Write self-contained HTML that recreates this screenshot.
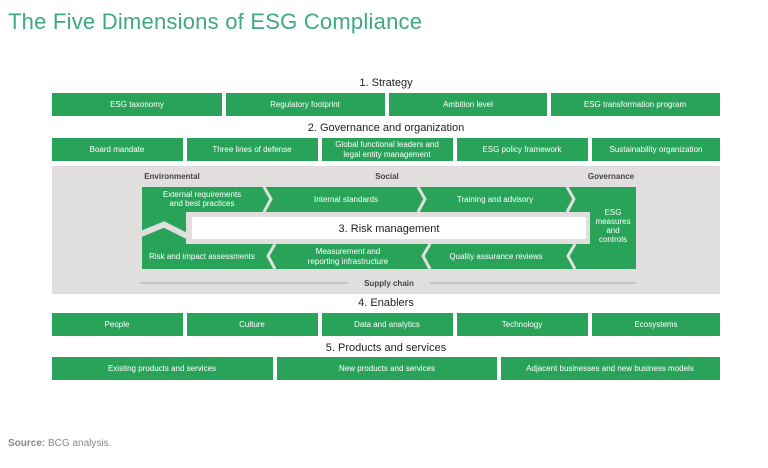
<!DOCTYPE html>
<html><head><meta charset="utf-8"><style>
html,body{margin:0;padding:0;background:#fff;}
svg{display:block;font-family:"Liberation Sans",sans-serif;}
.b{fill:#29a35a;}
.t{fill:#fff;font-size:8px;text-anchor:middle;}
.h{fill:#222;font-size:11px;text-anchor:middle;}
.s{fill:#444;font-size:8px;font-weight:bold;text-anchor:middle;}
</style></head><body>
<svg width="768" height="468" viewBox="0 0 768 468">
<text x="8" y="29" font-size="22" fill="#3ea884" textLength="414">The Five Dimensions of ESG Compliance</text>

<text class="h" x="386" y="86">1. Strategy</text>
<rect class="b" x="52" y="93" width="170" height="23"/><text class="t" x="137" y="107">ESG taxonomy</text>
<rect class="b" x="226" y="93" width="159" height="23"/><text class="t" x="305" y="107">Regulatory footprint</text>
<rect class="b" x="389" y="93" width="158" height="23"/><text class="t" x="468" y="107">Ambition level</text>
<rect class="b" x="551" y="93" width="169" height="23"/><text class="t" x="635" y="107">ESG transformation program</text>

<text class="h" x="386" y="131">2. Governance and organization</text>
<rect class="b" x="52" y="138" width="131" height="23"/><text class="t" x="117" y="152">Board mandate</text>
<rect class="b" x="187" y="138" width="131" height="23"/><text class="t" x="252" y="152">Three lines of defense</text>
<rect class="b" x="322" y="138" width="131" height="23"/><text class="t" x="387" y="147">Global functional leaders and</text><text class="t" x="387" y="157">legal entity management</text>
<rect class="b" x="457" y="138" width="131" height="23"/><text class="t" x="522" y="152">ESG policy framework</text>
<rect class="b" x="592" y="138" width="128" height="23"/><text class="t" x="656" y="152">Sustainability organization</text>

<rect x="52" y="166" width="668" height="128" fill="#e0dfdd"/>
<text class="s" x="172" y="179">Environmental</text>
<text class="s" x="387" y="179">Social</text>
<text class="s" x="611" y="179">Governance</text>
<rect class="b" x="142" y="187" width="494" height="82"/>
<rect x="186" y="212" width="404" height="32" fill="#e0dfdd"/>
<rect x="192" y="217" width="394" height="22" fill="#fff"/>
<polyline points="141,234 164,224.5 187,236" fill="none" stroke="#e0dfdd" stroke-width="6"/>
<g fill="none" stroke="#e0dfdd" stroke-width="3">
<polyline points="264,187 271,199 264,212"/>
<polyline points="418,187 425,199 418,212"/>
<polyline points="567,187 574,199 567,212"/>
<polyline points="275,244 268,256 275,269"/>
<polyline points="430,244 423,256 430,269"/>
<polyline points="575,244 568,256 575,269"/>
</g>
<text class="t" x="202" y="197">External requirements</text><text class="t" x="202" y="206">and best practices</text>
<text class="t" x="346" y="202">Internal standards</text>
<text class="t" x="495" y="202">Training and advisory</text>
<text x="389" y="232" font-size="11" fill="#222" text-anchor="middle">3. Risk management</text>
<text class="t" x="613" y="215">ESG</text><text class="t" x="613" y="224">measures</text><text class="t" x="613" y="233">and</text><text class="t" x="613" y="242">controls</text>
<text class="t" x="202" y="259">Risk and impact assessments</text>
<text class="t" x="348" y="254">Measurement and</text><text class="t" x="348" y="264">reporting infrastructure</text>
<text class="t" x="496" y="259">Quality assurance reviews</text>
<line x1="140" y1="283" x2="348" y2="283" stroke="#999" stroke-width="0.7"/>
<line x1="430" y1="283" x2="636" y2="283" stroke="#999" stroke-width="0.7"/>
<text class="s" x="389" y="286">Supply chain</text>

<text class="h" x="386" y="306">4. Enablers</text>
<rect class="b" x="52" y="313" width="131" height="23"/><text class="t" x="117" y="327">People</text>
<rect class="b" x="187" y="313" width="131" height="23"/><text class="t" x="252" y="327">Culture</text>
<rect class="b" x="322" y="313" width="131" height="23"/><text class="t" x="387" y="327">Data and analytics</text>
<rect class="b" x="457" y="313" width="131" height="23"/><text class="t" x="522" y="327">Technology</text>
<rect class="b" x="592" y="313" width="128" height="23"/><text class="t" x="656" y="327">Ecosystems</text>

<text class="h" x="386" y="351">5. Products and services</text>
<rect class="b" x="52" y="357" width="221" height="23"/><text class="t" x="162" y="371">Existing products and services</text>
<rect class="b" x="277" y="357" width="220" height="23"/><text class="t" x="387" y="371">New products and services</text>
<rect class="b" x="501" y="357" width="219" height="23"/><text class="t" x="610" y="371">Adjacent businesses and new business models</text>

<text x="8" y="446" font-size="10" fill="#888"><tspan font-weight="bold">Source:</tspan> BCG analysis.</text>
</svg>
</body></html>
